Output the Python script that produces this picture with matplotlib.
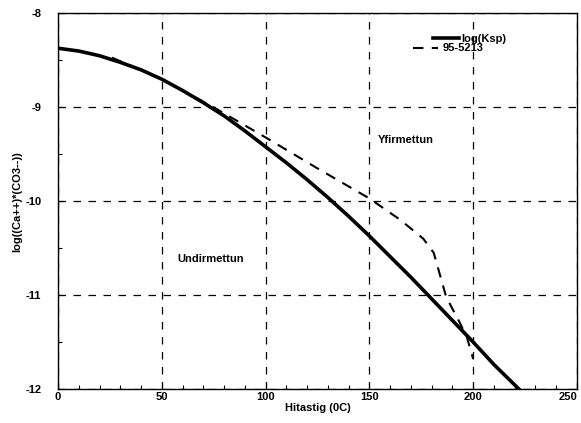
import matplotlib
matplotlib.use("Agg")
import matplotlib.pyplot as plt
from matplotlib.ticker import MultipleLocator

plt.rcParams['font.family'] = ['Liberation Sans', 'DejaVu Sans']
plt.rcParams['font.weight'] = 'bold'
plt.rcParams['axes.unicode_minus'] = False

ksp_x = [0, 10, 20, 30, 40, 50, 60, 70, 80, 90, 100, 110, 120, 130, 140,
         150, 160, 170, 180, 190, 200, 210, 222]
ksp_y = [-8.37, -8.40, -8.45, -8.52, -8.60, -8.70, -8.82, -8.95, -9.09, -9.25,
         -9.42, -9.59, -9.77, -9.96, -10.16, -10.37, -10.59, -10.81, -11.04,
         -11.27, -11.50, -11.74, -12.0]

s_x = [26, 50, 75, 100, 125, 150, 165, 176, 181, 187, 193, 197, 200]
s_y = [-8.47, -8.70, -9.0, -9.32, -9.65, -9.97, -10.2, -10.40, -10.55, -11.02,
       -11.27, -11.45, -11.68]

x_ticks = [0, 50, 100, 150, 200, 250]
x_tick_labels = ['0', '50', '100', '150', '200', '250']

fig = plt.figure(figsize=(5.81, 4.23), dpi=100)
ax = fig.add_axes([0.0998, 0.0804, 0.8933, 0.8877])

l1, = ax.plot(ksp_x, ksp_y, color='black', lw=2.6, label='log(Ksp)')
l2, = ax.plot(s_x, s_y, color='black', lw=1.5, ls=(0, (5, 4)), label='95-5213')

ax.set_xlim(0, 250)
ax.set_ylim(-12, -8)
ax.set_xticks(x_ticks)
ax.set_xticklabels(x_tick_labels)
ax.xaxis.set_minor_locator(MultipleLocator(10))
ax.yaxis.set_major_locator(MultipleLocator(1))
ax.yaxis.set_minor_locator(MultipleLocator(0.5))
ax.grid(True, which='major', color='black', ls=(0, (6, 6)), lw=0.9)
ax.tick_params(which='both', direction='in', labelsize=8, length=3, width=0.8)
ax.tick_params(which='major', length=4)
ax.tick_params(axis='y', pad=12)
ax.tick_params(axis='x', pad=2)
ax.get_xticklabels()[-1].set_horizontalalignment('right')
for s in ax.spines.values():
    s.set_linewidth(1.0)

ax.set_xlabel('Hitastig (0C)', fontsize=8, fontweight='bold', labelpad=1)
ax.set_ylabel('log((Ca++)*(CO3--))', fontsize=8, fontweight='bold', labelpad=2)

ax.text(154.1, -9.35, 'Yfirmettun', fontsize=8, fontweight='bold', va='center')
ax.text(57.3, -10.61, 'Undirmettun', fontsize=8, fontweight='bold', va='center')

leg1 = ax.legend([l1], ['log(Ksp)'], loc='center left', bbox_to_anchor=(0.7225, 0.933),
                 frameon=False, fontsize=8, handlelength=2.35, handletextpad=0.18,
                 borderpad=0, borderaxespad=0)
ax.add_artist(leg1)
ax.legend([l2], ['95-5213'], loc='center left', bbox_to_anchor=(0.684, 0.907),
          frameon=False, fontsize=8, handlelength=2.25, handletextpad=0.45,
          borderpad=0, borderaxespad=0)

fig.savefig('out.png', dpi=100)
